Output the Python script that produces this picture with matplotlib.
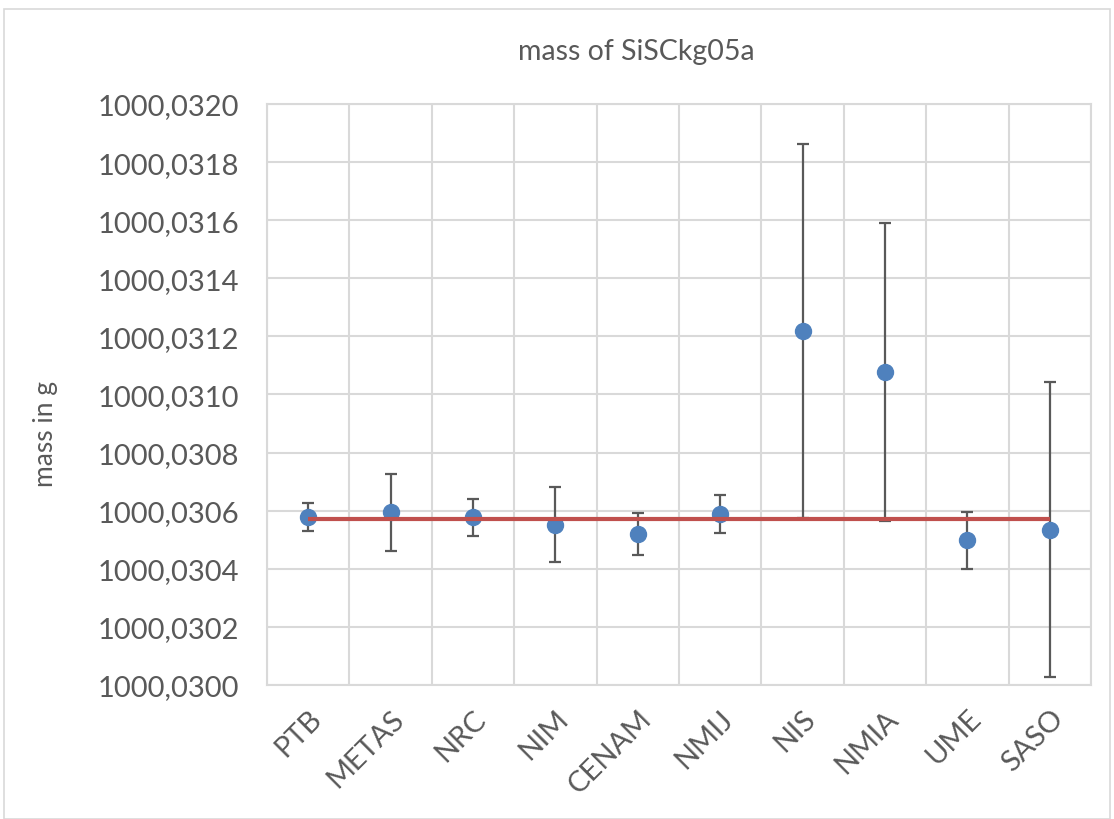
import matplotlib
matplotlib.use("Agg")
import matplotlib.pyplot as plt
from matplotlib.ticker import FuncFormatter, MultipleLocator
from matplotlib.patches import Rectangle

labs = ["PTB", "METAS", "NRC", "NIM", "CENAM", "NMIJ", "NIS", "NMIA", "UME", "SASO"]
mass = [1000.030579, 1000.030594, 1000.030577, 1000.030552, 1000.030520,
        1000.030589, 1000.031218, 1000.031079, 1000.030499, 1000.030534]
unc = [0.0000475, 0.000132, 0.0000648, 0.000129, 0.0000723,
       0.0000654, 0.000644, 0.000513, 0.0000981, 0.000508]
ref = [1000.0305714] * len(labs)

plt.rcParams['font.family'] = ['Lato', 'DejaVu Sans']
txt = '#595959'

fig = plt.figure(figsize=(11.14, 8.2), dpi=100)
fig.patches.append(Rectangle((4/1114, 0.0), 1106/1114, (820-10)/820, transform=fig.transFigure,
                             fill=False, edgecolor='#d9d9d9', linewidth=1.2))
ax = fig.add_axes([267/1114, (820-686)/820, (1091-267)/1114, (686-105)/820])

x = list(range(len(labs)))
ax.errorbar(x, mass, yerr=unc, fmt='o', color='#4f81bd', markersize=11.5,
            ecolor='#595959', elinewidth=1.6, capsize=4.5, capthick=1.6, zorder=3)
ax.plot(x, ref, color='#c0504d', linewidth=3, zorder=4, solid_capstyle='butt')

ax.set_xlim(-0.5, len(labs) - 0.5)
ax.set_ylim(1000.0300, 1000.0320)
ax.yaxis.set_major_locator(MultipleLocator(0.0002))
ax.yaxis.set_major_formatter(FuncFormatter(lambda v, p: f"{v:.4f}".replace('.', ',')))
ax.set_xticks(x)
ax.set_xticklabels(labs, rotation=45, ha='right', rotation_mode='anchor')
ax.set_xticks([i - 0.5 for i in range(len(labs) + 1)], minor=True)
ax.grid(True, which='minor', axis='x', color='#d9d9d9', linewidth=1.5)
ax.grid(True, which='major', axis='y', color='#d9d9d9', linewidth=1.5)
ax.set_axisbelow(True)
ax.tick_params(axis='both', which='both', length=0, labelsize=21, colors=txt)
ax.tick_params(axis='y', pad=20)
ax.tick_params(axis='x', pad=14)
for s in ax.spines.values():
    s.set_color('#d9d9d9')
    s.set_linewidth(1.5)

fig.text(45/1114, (820-434)/820, 'mass in g', rotation=90, ha='center', va='center',
         fontsize=19, color=txt)
fig.text(636/1114, (820-52)/820, 'mass of SiSCkg05a', ha='center', va='center',
         fontsize=20.5, color=txt)

fig.savefig('out.png', dpi=100)
